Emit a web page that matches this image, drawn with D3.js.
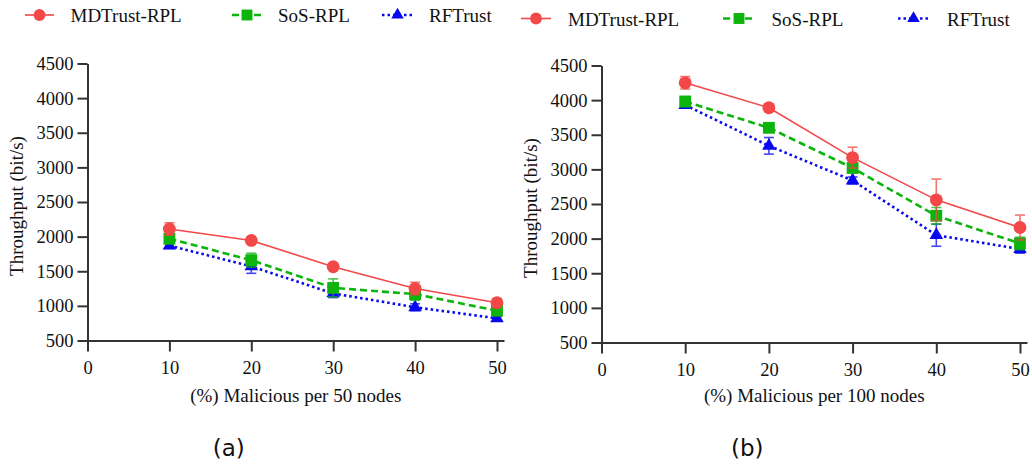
<!DOCTYPE html>
<html>
<head>
<meta charset="utf-8">
<script src="https://cdn.jsdelivr.net/npm/d3@7"></script>
<style>
  body { margin: 0; background: #fff; }
  svg { display: block; }
  text { font-family: "Liberation Serif", "Times New Roman", serif; fill: #111; }
</style>
</head>
<body>
<script>
// x categories (% malicious nodes)
var xTicks = [0, 10, 20, 30, 40, 50];
var xValues = [10, 20, 30, 40, 50];
var yTicks = [500, 1000, 1500, 2000, 2500, 3000, 3500, 4000, 4500];

var seriesNames = ["MDTrust-RPL", "SoS-RPL", "RFTrust"];

// (a) 50 nodes
var md50 = [2110, 1945, 1565, 1250, 1045];
var md50Err = [90, 20, 20, 90, 60];
var sos50 = [1970, 1660, 1260, 1170, 930];
var sos50Err = [70, 100, 130, 90, 50];
var rf50 = [1870, 1570, 1180, 980, 820];
var rf50Err = [40, 100, 60, 50, 30];

// (b) 100 nodes
var md100 = [4250, 3890, 3170, 2560, 2160];
var md100Err = [90, 50, 150, 300, 180];
var sos100 = [3980, 3600, 3020, 2330, 1930];
var sos100Err = [70, 30, 60, 120, 90];
var rf100 = [3930, 3340, 2840, 2050, 1850];
var rf100Err = [30, 120, 50, 160, 60];

var styles = {
  "MDTrust-RPL": {color: "#f24848", width: 1.6, dash: null, symbol: d3.symbolCircle, size: 130},
  "SoS-RPL": {color: "#0cb40c", width: 2.6, dash: "7,4", symbol: d3.symbolSquare, size: 140},
  "RFTrust": {color: "#0808f0", width: 2.6, dash: "2.5,3", symbol: d3.symbolTriangle, size: 80}
};

var svg = d3.select("body").append("svg")
  .attr("width", 1032)
  .attr("height", 466);

var panels = [
  {
    x0: 87.5, x1: 504, yTop: 63.5, yBot: 340.5, title: "(%) Malicious per 50 nodes", label: "(a)",
    series: [["RFTrust", rf50, rf50Err], ["SoS-RPL", sos50, sos50Err], ["MDTrust-RPL", md50, md50Err]],
    legend: {y: 15, items: [[25, 54, 70.5], [232, 262, 278], [382, 413, 429]]}
  },
  {
    x0: 601.5, x1: 1027, yTop: 65.5, yBot: 342.5, title: "(%) Malicious per 100 nodes", label: "(b)",
    series: [["RFTrust", rf100, rf100Err], ["SoS-RPL", sos100, sos100Err], ["MDTrust-RPL", md100, md100Err]],
    legend: {y: 18.5, items: [[521, 551, 568], [723, 755, 771.5], [898, 929, 947]]}
  }
];

panels.forEach(function(p) {
  // 50 sits ~7px before the end of the axis line
  var perUnit = (p.x1 - p.x0 - 7) / 50;
  var x = d3.scaleLinear().domain([0, (p.x1 - p.x0) / perUnit]).range([p.x0, p.x1]);
  var y = d3.scaleLinear().domain([500, 4500]).range([p.yBot, p.yTop]);

  var g = svg.append("g");

  // x axis
  var gx = g.append("g")
    .attr("transform", "translate(0," + p.yBot + ")")
    .call(d3.axisBottom(x).tickValues(xTicks).tickSize(11).tickSizeOuter(0));
  gx.selectAll("text").attr("y", 33).attr("dy", 0);

  // y axis
  var gy = g.append("g")
    .attr("transform", "translate(" + p.x0 + ",0)")
    .call(d3.axisLeft(y).tickValues(yTicks).tickSize(10).tickSizeOuter(0).tickFormat(d3.format("d")));
  gy.selectAll("text").attr("x", -14);

  g.selectAll(".domain, .tick line").attr("stroke", "#333").attr("stroke-width", 2);
  g.selectAll(".tick text")
    .attr("fill", "#111")
    .style("font-family", "'Liberation Serif', 'Times New Roman', serif")
    .style("font-size", "18.5px");

  // axis titles
  g.append("text")
    .attr("x", (p.x0 + p.x1) / 2)
    .attr("y", 402)
    .attr("text-anchor", "middle")
    .style("font-size", "19px")
    .text(p.title);

  g.append("text")
    .attr("transform", "translate(" + (p.x0 - 65) + "," + ((p.yTop + p.yBot) / 2 + 4) + ") rotate(-90)")
    .attr("text-anchor", "middle")
    .style("font-size", "19px")
    .text("Throughput (bit/s)");

  g.append("text")
    .attr("x", (p.x0 + p.x1) / 2 - 67)
    .attr("y", 456)
    .attr("text-anchor", "middle")
    .style("font-family", "DejaVu Sans")
    .style("font-size", "23px")
    .text(p.label);

  // series
  p.series.forEach(function(s) {
    var st = styles[s[0]];
    var vals = s[1], errs = s[2];
    var pts = xValues.map(function(d, i) { return {x: d, v: vals[i], e: errs[i]}; });

    var line = d3.line()
      .x(function(d) { return x(d.x); })
      .y(function(d) { return y(d.v); });

    g.append("path")
      .datum(pts)
      .attr("fill", "none")
      .attr("stroke", st.color)
      .attr("stroke-width", st.width)
      .attr("stroke-dasharray", st.dash)
      .attr("d", line);

    // error bars
    var eb = g.append("g")
      .attr("stroke", st.color)
      .attr("stroke-width", 1.6)
      .attr("opacity", 0.75);
    pts.forEach(function(d) {
      var cx = x(d.x);
      eb.append("line").attr("x1", cx).attr("x2", cx).attr("y1", y(d.v + d.e)).attr("y2", y(d.v - d.e));
      eb.append("line").attr("x1", cx - 5).attr("x2", cx + 5).attr("y1", y(d.v + d.e)).attr("y2", y(d.v + d.e));
      eb.append("line").attr("x1", cx - 5).attr("x2", cx + 5).attr("y1", y(d.v - d.e)).attr("y2", y(d.v - d.e));
    });

    g.selectAll(null)
      .data(pts)
      .enter().append("path")
      .attr("transform", function(d) { return "translate(" + x(d.x) + "," + y(d.v) + ")"; })
      .attr("d", d3.symbol().type(st.symbol).size(st.size))
      .attr("fill", st.color);
  });

  // legend
  seriesNames.forEach(function(name, i) {
    var st = styles[name];
    var it = p.legend.items[i];
    var ly = p.legend.y;
    g.append("line")
      .attr("x1", it[0]).attr("x2", it[1])
      .attr("y1", ly).attr("y2", ly)
      .attr("stroke", st.color)
      .attr("stroke-width", st.width)
      .attr("stroke-dasharray", st.dash);
    g.append("path")
      .attr("transform", "translate(" + ((it[0] + it[1]) / 2) + "," + ly + ")")
      .attr("d", d3.symbol().type(st.symbol).size(st.size * 0.85))
      .attr("fill", st.color);
    g.append("text")
      .attr("x", it[2])
      .attr("y", ly + 7)
      .style("font-size", "19px")
      .text(name);
  });
});
</script>
</body>
</html>
